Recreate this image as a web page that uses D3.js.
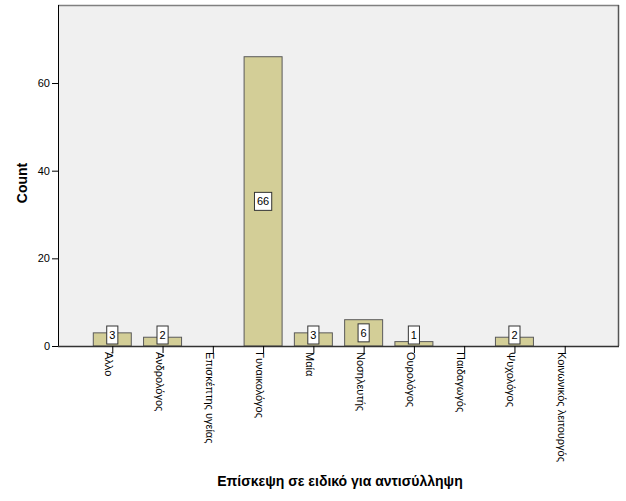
<!DOCTYPE html>
<html><head><meta charset="utf-8">
<script src="https://cdn.jsdelivr.net/npm/d3@7"></script>
<style>body{margin:0;background:#fff;}svg{display:block;font-family:"Liberation Sans",Arial,sans-serif;}</style>
</head><body>
<svg id="c" width="626" height="501"></svg>
<script>
const categories = ["Άλλο","Ανδρολόγος","Επισκέπτης υγείας","Γυναικολόγος","Μαία","Νοσηλευτής","Ουρολόγος","Παιδαγωγός","Ψυχολόγος","Κοινωνικός λειτουργός"];
const counts = [3,2,0,66,3,6,1,0,2,0];
const yTicks = [0,20,40,60];
const yTitle = "Count";
const xTitle = "Επίσκεψη σε ειδικό για αντισύλληψη";

const svg = d3.select("#c");
const L = 58, R = 619, T = 5, B = 346;
const x = d3.scalePoint().domain(categories).range([L, R]).padding(1.08);
const y = d3.scaleLinear().domain([0, 77.8]).range([B, T]);
const bw = 38;

svg.append("rect").attr("x", L).attr("y", T).attr("width", R - L).attr("height", B - T).attr("fill", "#f0f0f0");
svg.append("line").attr("x1", L).attr("x2", R).attr("y1", T+0.5).attr("y2", T+0.5).attr("stroke", "#808080").attr("stroke-width", 1.5);
svg.append("line").attr("x1", R-0.5).attr("x2", R-0.5).attr("y1", T).attr("y2", B).attr("stroke", "#555").attr("stroke-width", 1.5);

svg.selectAll("rect.bar").data(counts).enter().append("rect").attr("class","bar")
  .attr("x", (d,i) => x(categories[i]) - bw/2)
  .attr("y", d => y(d))
  .attr("width", bw)
  .attr("height", d => B - y(d))
  .attr("fill", "#d3ce97").attr("stroke", "#5a5a5a").attr("stroke-width", 1)
  .style("display", d => d > 0 ? null : "none");

// y axis
const ya = svg.append("g").attr("transform", `translate(${L},0)`)
  .call(d3.axisLeft(y).tickValues(yTicks).tickSize(6).tickPadding(2).tickFormat(d3.format("d")));
ya.select(".domain").attr("d", `M0.5,${T}V${B}`).attr("stroke", "#000");
ya.selectAll("text").attr("font-size", 11).attr("fill", "#000").attr("font-family","Liberation Sans, Arial, sans-serif");

// x axis
const xa = svg.append("g").attr("transform", `translate(0,${B})`)
  .call(d3.axisBottom(x).tickSize(7).tickPadding(3));
xa.select(".domain").attr("d", `M${L},0.5H${R}`).attr("stroke", "#333").attr("stroke-width", 1.5);
xa.selectAll("text").attr("font-size", 11).attr("fill", "#000").attr("font-family","Liberation Sans, Arial, sans-serif")
  .attr("transform", "rotate(90)").attr("text-anchor", "start")
  .attr("x", 6).attr("y", 0).attr("dy", "0.68em");

// value labels
counts.forEach((v, i) => {
  if (v <= 0) return;
  const cy = Math.min(y(v/2), 335);
  const g = svg.append("g");
  const t = g.append("text").attr("x", x(categories[i])).attr("y", cy).attr("dy", "0.35em")
    .attr("text-anchor", "middle").attr("font-size", 11).text(v);
  const bb = t.node().getBBox();
  g.insert("rect", "text").attr("x", bb.x - 2.5).attr("y", cy - 9).attr("width", bb.width + 5).attr("height", 18)
    .attr("fill", "#fff").attr("stroke", "#333").attr("stroke-width", 1);
});

svg.append("text").attr("transform", `translate(27,183) rotate(-90)`).attr("text-anchor", "middle")
  .attr("font-size", 14).attr("font-weight", "bold").text(yTitle);
svg.append("text").attr("x", 340).attr("y", 486).attr("text-anchor", "middle")
  .attr("font-size", 14).attr("font-weight", "bold").text(xTitle);
</script>
</body></html>
